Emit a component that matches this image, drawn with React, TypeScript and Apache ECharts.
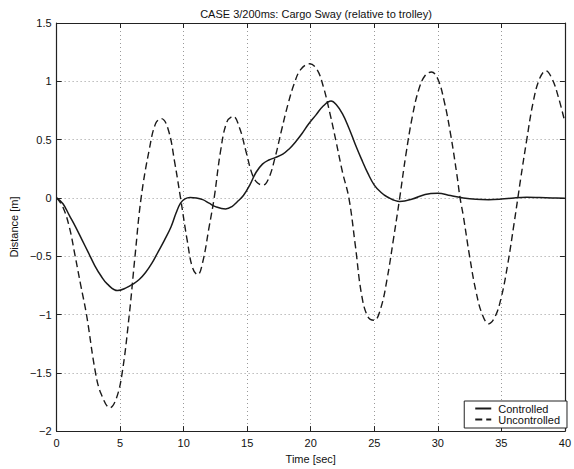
import React, { useEffect, useRef } from "react";
import * as echarts from "echarts";

const titleText = "CASE 3/200ms: Cargo Sway (relative to trolley)";
const xName = "Time [sec]";
const yName = "Distance [m]";
const seriesNames = ["Controlled", "Uncontrolled"];

// [time, distance]
const controlled: [number, number][] = [
  [0, 0], [0.5, -0.05], [1, -0.15], [1.5, -0.25], [2, -0.36], [2.5, -0.47],
  [3, -0.58], [3.5, -0.67], [4, -0.74], [4.8, -0.795], [5.5, -0.77], [6, -0.74],
  [6.5, -0.7], [7, -0.64], [7.5, -0.56], [8, -0.46], [8.5, -0.36], [9, -0.25],
  [9.4, -0.13], [9.75, -0.045], [10.1, -0.008], [10.5, 0.004], [11, 0.0],
  [11.5, -0.015], [12, -0.045], [12.5, -0.075], [13.3, -0.095], [13.8, -0.075],
  [14.2, -0.035], [14.7, 0.02], [15.2, 0.11], [15.7, 0.22], [16.2, 0.29],
  [16.7, 0.325], [17.2, 0.345], [17.8, 0.375], [18.3, 0.42], [18.8, 0.48],
  [19.3, 0.55], [19.8, 0.63], [20.4, 0.71], [21.0, 0.79], [21.6, 0.83],
  [22.0, 0.8], [22.5, 0.72], [23.0, 0.6], [23.5, 0.46], [24.0, 0.33],
  [24.5, 0.21], [25.0, 0.11], [25.5, 0.05], [26.0, 0.01], [27.0, -0.03],
  [28.0, -0.01], [29.0, 0.03], [30.0, 0.04], [31.0, 0.02], [32.0, 0.0],
  [33.0, -0.012], [34.0, -0.015], [35.0, -0.01], [36.0, 0.0], [37.0, 0.005],
  [38.0, 0.003], [39.0, 0.0], [40.0, -0.003],
];

const uncontrolled: [number, number][] = [
  [0, 0], [0.5, -0.08], [1, -0.25], [1.46, -0.5], [1.9, -0.75], [2.35, -1.0],
  [3.06, -1.5], [3.5, -1.68], [4.2, -1.8], [4.7, -1.72], [5.16, -1.5],
  [5.72, -1.0], [6.17, -0.5], [6.65, 0.0], [7.3, 0.42], [7.8, 0.64],
  [8.25, 0.68], [8.8, 0.58], [9.3, 0.3], [9.75, 0], [10.3, -0.38],
  [10.7, -0.6], [11.1, -0.66], [11.5, -0.55], [12.0, -0.25], [12.4, 0.0],
  [12.9, 0.4], [13.4, 0.65], [13.9, 0.7], [14.4, 0.6], [14.9, 0.4],
  [15.4, 0.2], [15.8, 0.13], [16.25, 0.11], [16.7, 0.17], [17.2, 0.35],
  [17.7, 0.58], [18.2, 0.8], [18.7, 0.98], [19.2, 1.1], [19.9, 1.15],
  [20.5, 1.1], [21.0, 0.95], [21.5, 0.73], [22.0, 0.48], [22.5, 0.22],
  [23.0, 0.0], [23.5, -0.4], [24.0, -0.83], [24.5, -1.02], [25.0, -1.05],
  [25.5, -0.95], [26.0, -0.7], [26.5, -0.36], [27.0, 0.0], [27.5, 0.38],
  [28.0, 0.7], [28.5, 0.93], [29.0, 1.05], [29.5, 1.08], [30.0, 1.02],
  [30.5, 0.83], [31.0, 0.55], [31.5, 0.2], [31.75, 0], [32.0, -0.15],
  [32.5, -0.5], [33.0, -0.8], [33.5, -1.0], [34.0, -1.08], [34.5, -1.02],
  [35.0, -0.85], [35.5, -0.57], [36.0, -0.22], [36.3, 0], [36.5, 0.15],
  [37.0, 0.5], [37.5, 0.82], [38.0, 1.02], [38.5, 1.09], [39.0, 1.02],
  [39.5, 0.86], [40.0, 0.65],
];

const xMin = 0, xMax = 40, xStep = 5;
const yMin = -2, yMax = 1.5, yStep = 0.5;

const FONT = "'Liberation Sans', Arial, Helvetica, sans-serif";

export default function App() {
  const ref = useRef<HTMLDivElement>(null);
  useEffect(() => {
    if (!ref.current) return;
    const chart = echarts.init(ref.current, undefined, { renderer: "svg" });
    const fmtY = (v: number) => String(v).replace("-", "\u2212");
    const axisLine = { show: true, onZero: false, lineStyle: { color: "#222", width: 1.2 } };
    const tick = { show: true, inside: true, length: 5, lineStyle: { color: "#222", width: 1 } };
    const split = { show: true, lineStyle: { color: "#999", type: [1, 3] as any, width: 1 } };
    chart.setOption({
      animation: false,
      backgroundColor: "#fff",
      textStyle: { fontFamily: FONT },
      title: {
        text: titleText,
        left: 311,
        top: 3,
        textAlign: "center",
        textStyle: { fontSize: 11, fontWeight: "normal", color: "#111", fontFamily: FONT },
      },
      grid: { left: 49, right: 2, top: 23, bottom: 36, containLabel: false },
      legend: {
        data: [seriesNames[0], seriesNames[1]],
        orient: "vertical",
        right: 7,
        bottom: 41,
        itemWidth: 16,
        itemHeight: 12,
        itemGap: 0,
        padding: [2, 7, 3, 10],
        borderColor: "#222",
        borderWidth: 1,
        borderRadius: 0,
        backgroundColor: "#fff",
        itemStyle: { opacity: 0 },
        textStyle: { fontSize: 11, color: "#111", fontFamily: FONT, padding: [0, 0, 0, 2] },
      },
      xAxis: [
        {
          type: "value", min: xMin, max: xMax, interval: xStep, position: "bottom",
          name: xName, nameLocation: "middle", nameGap: 19,
          nameTextStyle: { fontSize: 11, color: "#111", fontFamily: FONT },
          axisLine, axisTick: tick, splitLine: split,
          axisLabel: { fontSize: 11, color: "#111", margin: 6, fontFamily: FONT },
        },
        {
          type: "value", min: xMin, max: xMax, interval: xStep, position: "top",
          axisLine, axisTick: tick, splitLine: { show: false }, axisLabel: { show: false },
        },
      ],
      yAxis: [
        {
          type: "value", min: yMin, max: yMax, interval: yStep, position: "left",
          name: yName, nameLocation: "middle", nameGap: 32,
          nameTextStyle: { fontSize: 11, color: "#111", fontFamily: FONT },
          axisLine, axisTick: tick, splitLine: split,
          axisLabel: { fontSize: 11, color: "#111", margin: 5, formatter: fmtY, fontFamily: FONT },
        },
        {
          type: "value", min: yMin, max: yMax, interval: yStep, position: "right",
          axisLine, axisTick: tick, splitLine: { show: false }, axisLabel: { show: false },
        },
      ],
      series: [
        {
          name: seriesNames[0], type: "line", data: controlled, smooth: 0.4,
          showSymbol: false, symbol: "none", clip: true,
          lineStyle: { color: "#1a1a1a", width: 1.5, type: "solid" },
          itemStyle: { color: "#1a1a1a" },
        },
        {
          name: seriesNames[1], type: "line", data: uncontrolled, smooth: 0.4,
          showSymbol: false, symbol: "none", clip: true,
          lineStyle: { color: "#1a1a1a", width: 1.4, type: [7, 4] as any },
          itemStyle: { color: "#1a1a1a" },
        },
      ],
    });
    return () => chart.dispose();
  }, []);
  return (
    <div
      ref={ref}
      style={{ position: "fixed", left: 0, top: 0, width: 574, height: 469, background: "#fff" }}
    />
  );
}
